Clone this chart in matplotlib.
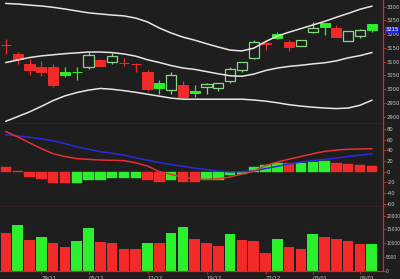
import matplotlib
matplotlib.use('Agg')
import matplotlib.pyplot as plt
import numpy as np
from matplotlib.transforms import blended_transform_factory

plt.rcParams['font.family'] = ['DejaVu Sans']
plt.rcParams['font.stretch'] = 'condensed'

# ---------------- data ----------------
date_ticks = [3, 7, 12, 17, 22, 26, 30]
date_labels = ['29/11', '05/12', '12/12', '19/12', '27/12', '03/01', '09/01']

prev_close = 3170
opens  = [3161, 3127, 3093, 3081, 3079, 3062, 3062, 3081, 3105, 3099, 3095, 3092, 3063, 3021, 2998, 3015,
          2994, 3008, 3004, 3029, 3071, 3115, 3166, 3199, 3172, 3157, 3208, 3239, 3221, 3176, 3194, 3236]
highs  = [3181, 3136, 3108, 3103, 3090, 3079, 3081, 3136, 3108, 3130, 3115, 3097, 3071, 3033, 3063, 3029,
          3015, 3021, 3023, 3081, 3100, 3180, 3178, 3206, 3180, 3179, 3245, 3241, 3233, 3213, 3218, 3238]
lows   = [3127, 3093, 3051, 3048, 3008, 3045, 3033, 3075, 3083, 3091, 3085, 3063, 2993, 2984, 2984, 2966,
          2972, 2984, 2995, 3023, 3063, 3111, 3142, 3184, 3139, 3156, 3203, 3196, 3189, 3175, 3187, 3206]
closes = [3160, 3108, 3069, 3061, 3015, 3050, 3061, 3123, 3085, 3121, 3094, 3090, 3000, 3004, 3053, 2973,
          2986, 3020, 3022, 3074, 3099, 3173, 3164, 3186, 3154, 3178, 3222, 3224, 3190, 3212, 3214, 3215]
last_price = 3215

bb_upper = [3311, 3309, 3305, 3302, 3297, 3291, 3284, 3277, 3273, 3269, 3266, 3258, 3244, 3222, 3204, 3189,
            3178, 3165, 3153, 3142, 3139, 3149, 3173, 3193, 3207, 3220, 3233, 3246, 3261, 3275, 3290, 3301]
bb_mid   = [3097, 3106, 3115, 3121, 3125, 3129, 3132, 3135, 3135, 3133, 3128, 3120, 3107, 3097, 3086, 3077,
            3072, 3064, 3056, 3049, 3047, 3055, 3068, 3077, 3083, 3087, 3092, 3096, 3103, 3114, 3122, 3133]
bb_lower = [2884, 2901, 2918, 2938, 2959, 2976, 2988, 2997, 3003, 3000, 2995, 2989, 2982, 2975, 2968, 2964,
            2964, 2964, 2964, 2964, 2964, 2961, 2957, 2951, 2944, 2939, 2935, 2932, 2930, 2932, 2942, 2960]

macd   = [75.1, 65.2, 54.1, 43.2, 33.8, 28.4, 24.4, 23.1, 21.8, 21.4, 20.7, 16.5, 10.5, 0.0, -5.0, -10.7,
          -13.7, -14.5, -13.5, -10.0, -4.5, 1.0, 11.5, 18.0, 23.5, 28.5, 33.5, 38.0, 40.5, 42.0, 42.5, 43.0]
signal = [69.1, 67.0, 64.4, 61.4, 57.8, 52.8, 46.6, 41.9, 37.4, 34.4, 31.0, 25.9, 21.6, 17.1, 13.3, 10.0,
          6.6, 3.8, 0.9, -0.5, 0.0, 1.5, 5.8, 10.0, 14.5, 18.0, 21.0, 23.0, 25.5, 28.5, 31.0, 33.5]
prev_hist = 10.0
hist = [8.7, 1.0, -9.4, -14.5, -20.7, -22.0, -20.7, -16.3, -16.0, -11.3, -11.2, -11.0, -16.3, -19.4, -15.6, -19.4,
        -19.8, -16.3, -15.6, -7.0, -5.0, 8.7, 12.4, 16.9, 15.5, 16.0, 18.8, 20.0, 16.9, 15.0, 12.4, 10.5]

volume = [13600, 16600, 11150, 12360, 9960, 8730, 10800, 15400, 10550, 10180, 7890, 7890, 10180, 10180, 13600, 16000,
          11530, 10180, 9090, 13340, 11150, 10800, 6320, 11400, 8500, 7890, 13230, 12360, 11530, 10900, 9820, 9820]
vol_up = [0, 1, 0, 1, 0, 0, 1, 1, 0, 0, 0, 0, 1, 0, 1, 1,
          0, 0, 0, 1, 0, 0, 0, 1, 0, 0, 1, 0, 0, 0, 0, 1]

price_ticks = [2900, 2950, 3000, 3050, 3100, 3150, 3200, 3250, 3300]
macd_ticks = [-60, -40, -20, 0, 20, 40, 60, 80]
vol_ticks = [0, 5000, 10000, 15000, 20000]

# ---------------- style ----------------
BG = '#1e1e1e'
RED = '#f22a2a'
GREEN = '#2cf02c'
PALE = '#86d686'
AXRED = '#d42a2a'
TXT = '#c8c8c8'
FS = 4.2

fig = plt.figure(figsize=(4, 2.79), dpi=100, facecolor=BG)
H = 279.0
W = 383.0 / 400.0
ax1 = fig.add_axes([0, 1 - 124.3 / H, W, 124.3 / H], facecolor=BG)
ax2 = fig.add_axes([0, 1 - 206.7 / H, W, (206.7 - 124.3) / H], facecolor=BG, sharex=ax1)
ax3 = fig.add_axes([0, 1 - 271.0 / H, W, (271.0 - 206.7) / H], facecolor=BG, sharex=ax1)

x = np.arange(len(closes))

# candles
pc = [prev_close] + closes[:-1]
for i in x:
    o, h, l, c = opens[i], highs[i], lows[i], closes[i]
    up = c >= pc[i]
    hollow = c > o
    col = (PALE if hollow else GREEN) if up else RED
    ax1.vlines(i, l, h, color=col, lw=0.9, zorder=2)
    bottom = min(o, c)
    height = max(abs(c - o), 0.01)
    if hollow:
        ax1.bar(i, height, bottom=bottom, width=0.86, facecolor=BG, edgecolor=col, lw=0.9, zorder=3)
    else:
        ax1.bar(i, height, bottom=bottom, width=0.86, facecolor=col, edgecolor=col, lw=0.7, zorder=3)

for band in (bb_upper, bb_mid, bb_lower):
    ax1.plot(x, band, color='#e6e6e6', lw=1.1, zorder=4)

ax1.set_ylim(2873, 3323.6)
ax1.set_xlim(-0.5, 31.95)

# MACD
hp = [prev_hist] + hist[:-1]
hcols = [GREEN if hist[i] > hp[i] else RED for i in x]
ax2.bar(x, hist, width=0.88, color=hcols, edgecolor=hcols, lw=0.3, zorder=2)
ax2.plot(x, signal, color='#2a2ae6', lw=1.1, zorder=3)
ax2.plot(x, macd, color='#e83030', lw=1.1, zorder=4)
ax2.set_ylim(-65.7, 88.8)

# volume
vcols = [GREEN if u else RED for u in vol_up]
ax3.bar(x, volume, width=0.9, color=vcols, zorder=2)
ax3.set_ylim(0, 23200)

for ax in (ax1, ax2, ax3):
    for s in ('top', 'left'):
        ax.spines[s].set_visible(False)
    for s in ('bottom', 'right'):
        ax.spines[s].set_color(AXRED)
        ax.spines[s].set_linewidth(0.9)
    ax.yaxis.tick_right()
    ax.tick_params(axis='y', colors=AXRED, labelcolor=TXT, labelsize=FS, length=2, width=0.6, pad=0.8)
    ax.tick_params(axis='x', colors=AXRED, labelcolor=TXT, labelsize=FS, length=2, width=0.6, pad=1)

ax1.set_yticks(price_ticks)
ax1.set_yticklabels([str(t) for t in price_ticks])
ax2.set_yticks(macd_ticks)
ax2.set_yticklabels([str(t) for t in macd_ticks])
ax3.set_yticks(vol_ticks)
ax3.set_yticklabels([str(t) for t in vol_ticks])
ax3.tick_params(axis='y', labelsize=3.6, pad=0.5, length=1.8)

ax1.tick_params(axis='x', bottom=False, labelbottom=False)
ax2.tick_params(axis='x', bottom=False, labelbottom=False)
ax3.set_xticks(date_ticks)
ax3.set_xticklabels(date_labels)
for lbl in ax3.get_xticklabels():
    lbl.set_ha('left')

tr = blended_transform_factory(ax1.transAxes, ax1.transData)
ax1.text(1.006, last_price, str(last_price), transform=tr, ha='left', va='center',
         fontsize=FS, color='white', zorder=10, clip_on=False,
         bbox=dict(boxstyle='square,pad=0.12', facecolor='#2626e0', edgecolor='none'))

fig.savefig('out.png', dpi=100, facecolor=BG)
